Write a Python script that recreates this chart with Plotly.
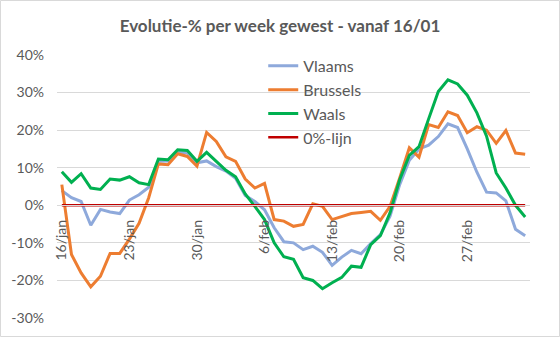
import plotly.graph_objects as go

# ---- data ----
categories = ([f"{d}/jan" for d in range(16, 32)]
              + [f"{d}/feb" for d in range(1, 29)]
              + [f"{d}/mrt" for d in range(1, 6)])

vlaams = [3.9, 2.0, 1.0, -5.3, -1.1, -1.8, -2.2, 1.4, 2.8, 4.8,
          11.7, 11.8, 14.2, 13.9, 11.3, 11.8, 10.3, 9.1, 7.2, 2.6,
          1.0, -1.2, -6.0, -9.7, -10.0, -11.8, -10.9, -12.5, -16.0, -13.8,
          -12.0, -12.9, -10.2, -7.8, -2.9, 5.5, 12.0, 15.0, 16.0, 18.3,
          21.7, 20.7, 15.0, 8.8, 3.5, 3.3, 1.2, -6.4, -8.1]

brussels = [5.5, -13.1, -18.0, -21.7, -18.9, -12.8, -12.8, -9.0, -4.8, 2.0,
            11.0, 10.8, 13.7, 13.0, 10.4, 19.4, 17.0, 12.9, 11.7, 7.0,
            4.6, 5.8, -3.8, -4.2, -5.6, -5.1, 0.4, -0.3, -3.8, -3.0,
            -2.2, -1.9, -1.6, -4.0, -0.3, 7.3, 15.3, 12.8, 21.5, 20.7,
            24.9, 23.9, 19.3, 20.9, 20.0, 16.5, 19.9, 13.9, 13.6]

waals = [8.9, 6.1, 8.4, 4.6, 4.2, 7.0, 6.7, 7.6, 6.0, 5.5,
         12.3, 12.1, 14.8, 14.6, 11.7, 14.1, 11.7, 9.3, 7.6, 3.0,
         -0.3, -3.8, -10.0, -13.7, -14.4, -19.3, -20.0, -22.2, -20.6, -19.2,
         -16.2, -16.5, -10.5, -8.1, -2.0, 6.8, 13.3, 15.6, 23.0, 30.3,
         33.4, 32.3, 29.3, 24.6, 18.4, 8.6, 4.6, 0.0, -3.1]

nul_lijn = [0] * len(categories)

y_ticks = [-30, -20, -10, 0, 10, 20, 30, 40]
y_ticktext = ["-30%", "-20%", "-10%", "0%", "10%", "20%", "30%", "40%"]
x_ticklabels = ["16/jan", "23/jan", "30/jan", "6/feb", "13/feb", "20/feb", "27/feb"]

FONT = "Lato"
GREY = "#595959"

fig = go.Figure()
series = [("Vlaams", vlaams, "#8EA9DB", 3),
          ("Brussels", brussels, "#ED7D31", 3),
          ("Waals", waals, "#00B050", 3),
          ("0%-lijn", nul_lijn, "#C00000", 2.5)]
for name, vals, col, w in series:
    fig.add_trace(go.Scatter(x=categories, y=vals, name=name, mode="lines",
                             line=dict(color=col, width=w)))

L, R, T, B = 57, 30, 55, 19
W, H = 560, 337
pw, ph = W - L - R, H - T - B

fig.update_layout(
    width=W, height=H,
    margin=dict(l=L, r=R, t=T, b=B, pad=0),
    paper_bgcolor="white", plot_bgcolor="white",
    font=dict(family=FONT, color=GREY, size=14),
    title=dict(text="<b>Evolutie-% per week gewest - vanaf 16/01</b>",
               x=0.5, xanchor="center", y=1 - 26 / H, yanchor="middle",
               font=dict(family=FONT, size=17, color=GREY)),
    showlegend=True,
    legend=dict(x=0.436, y=1.023, xanchor="left", yanchor="top",
                bgcolor="rgba(0,0,0,0)", font=dict(family=FONT, size=16, color=GREY),
                tracegroupgap=0),
    xaxis=dict(type="category", range=[-0.5, len(categories) - 0.5],
               anchor="free", position=30 / 70,
               tickmode="array", tickvals=x_ticklabels, ticktext=x_ticklabels,
               tickangle=-90, showgrid=False, zeroline=False,
               showline=True, linecolor="#D9D9D9", linewidth=1,
               ticks="outside", ticklen=8, tickcolor="rgba(0,0,0,0)",
               tickfont=dict(family=FONT, size=14, color=GREY)),
    yaxis=dict(range=[-30, 40], tickmode="array", tickvals=y_ticks,
               ticktext=y_ticktext, showgrid=True, gridcolor="#D9D9D9",
               gridwidth=1, zeroline=False, showline=False, ticks="",
               ticklabelstandoff=12,
               tickfont=dict(family=FONT, size=14, color=GREY)),
)

fig.add_shape(type="rect", xref="paper", yref="paper",
              x0=(-L + 0.5) / pw, x1=1 + (R - 0.5) / pw,
              y0=(-B + 0.5) / ph, y1=1 + (T - 0.5) / ph,
              line=dict(color="#D9D9D9", width=1), layer="below")

fig.write_html("out.html")
